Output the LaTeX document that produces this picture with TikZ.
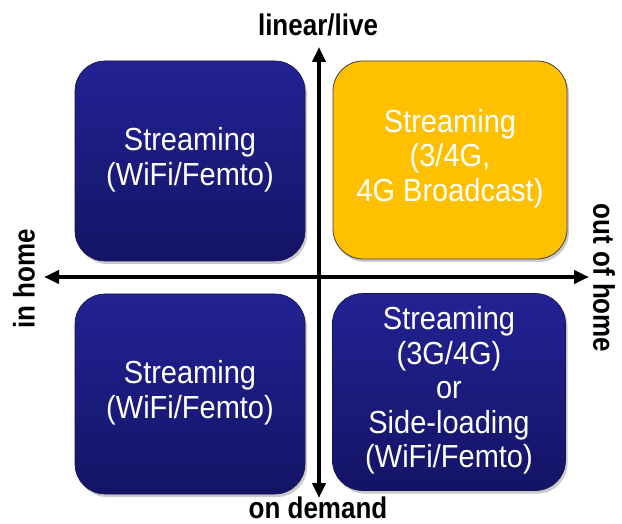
\documentclass[tikz,border=0pt]{standalone}
\usepackage{fontspec}
\setmainfont{Liberation Sans}
\usetikzlibrary{arrows.meta,shadows}
\definecolor{navytop}{RGB}{34,34,148}
\definecolor{navybot}{RGB}{20,20,102}
\definecolor{navyedge}{RGB}{18,18,80}
\definecolor{gold}{RGB}{255,192,0}
\newcommand{\boxtext}[1]{\scalebox{1}[1.1]{\begin{tabular}{@{}c@{}}#1\end{tabular}}}
\newcommand{\labtext}[1]{\scalebox{1}[1.15]{#1}}
\tikzset{
  quad/.style={rectangle, rounded corners=30pt, minimum width=230pt, minimum height=200pt,
    text=white, align=center, font=\fontsize{29}{31.4}\selectfont, inner sep=0pt,
    drop shadow={shadow xshift=2pt, shadow yshift=-3pt, opacity=0.35, fill=black!60}},
  navyquad/.style={quad, top color=navytop, bottom color=navybot, draw=navyedge, line width=0.6pt},
  goldquad/.style={quad, fill=gold, draw=black!75, line width=0.8pt},
  axis/.style={line width=4pt, {Triangle[length=15pt,width=13pt]}-{Triangle[length=15pt,width=13pt]}},
  axlabel/.style={font=\bfseries\fontsize{26}{30}\selectfont, inner sep=0pt}
}
\begin{document}
\begin{tikzpicture}[x=1pt,y=-1pt]
\useasboundingbox (0,0) rectangle (622,524);
\node[navyquad] (tl) at (190,161) {\boxtext{Streaming\\(WiFi/Femto)}};
\node[goldquad, minimum width=234pt, minimum height=198pt] (tr) at (450,160) {\boxtext{Streaming\\(3/4G,\\4G Broadcast)}};
\node[navyquad] (bl) at (190,394) {\boxtext{Streaming\\(WiFi/Femto)}};
\node[navyquad, minimum width=233pt, minimum height=197pt] (br) at (449,392) {\boxtext{Streaming\\(3G/4G)\\or\\Side-loading\\(WiFi/Femto)}};
\coordinate (top) at (319,47);
\coordinate (bot) at (319,498);
\coordinate (left) at (44,277);
\coordinate (right) at (589,277);
\draw[axis] (bot) -- (top);
\draw[axis] (left) -- (right);
\node[axlabel, anchor=base] (live) at (318,36) {\labtext{linear/live}};
\node[axlabel, anchor=base] (demand) at (318,518) {\labtext{on demand}};
\node[axlabel, rotate=90] (inhome) at (24,279) {\labtext{in home}};
\node[axlabel, rotate=-90] (outhome) at (604,278) {\labtext{out of home}};
\end{tikzpicture}
\end{document}
